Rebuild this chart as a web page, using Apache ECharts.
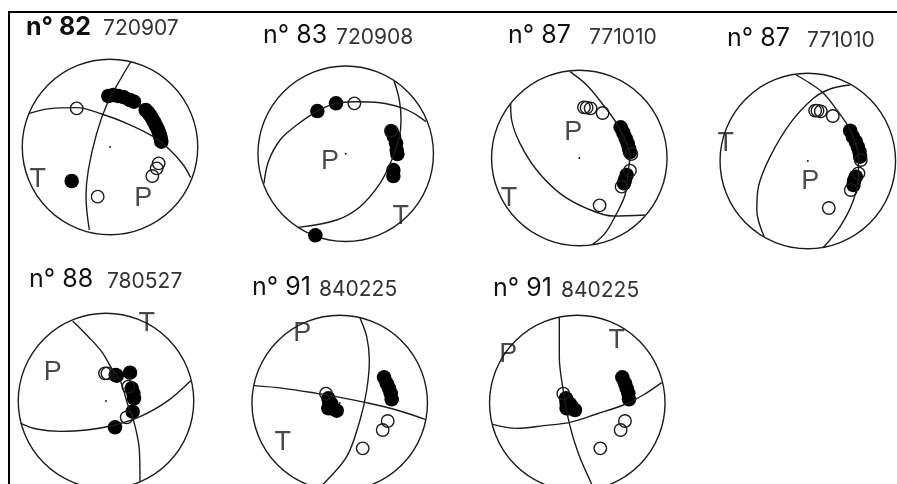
<!DOCTYPE html>
<html><head><meta charset="utf-8">
<style>html,body{margin:0;padding:0;background:#fff}#c{width:897px;height:484px}</style>
<script src="https://cdn.jsdelivr.net/npm/echarts@6/dist/echarts.min.js"></script>
</head><body><div id="c"></div>
<script>
const titles = ['n° 82','n° 83','n° 87','n° 87','n° 88','n° 91','n° 91'];
const dates = ['720907','720908','771010','771010','780527','840225','840225'];

const filled1 = [[-5,-153],[10,-156],[25,-153],[42,-149],[60,-141],[72,-136],[107,-111],[114,-104],[120,-96],[126,-86],[132,-76],[137,-66],[142,-56],[146,-46],[150,-36],[152,-26],[154,-16],[-115,102]];
const open1 = [[-100,-116],[-37,149],[146,49],[140,64],[127,87]];
const planeA1 = [[62,-255],[30,-201],[-8,-131],[-40,-41],[-65,69],[-72,149],[-62,249]];
const planeB1 = [[-242,-101],[-180,-115],[-100,-118],[-25,-99],[50,-71],[130,-31],[180,9],[220,54],[242,92]];
const letters1 = [['T',-217,97],['P',100,154]];

const filled2 = [[-85,-128],[-29,-151],[143,49],[143,67],[-91,245],[138,-66],[145,-51],[151,-31],[153,-11],[155,1]];
const open2 = [[26,-151],[136,-69]];
const planeA2 = [[145,-219],[161,-161],[166,-101],[161,-51],[138,19],[103,89],[43,159],[-27,199],[-142,221]];
const planeB2 = [[-245,89],[-232,24],[-197,-41],[-147,-86],[-85,-128],[-29,-151],[26,-156],[103,-153],[173,-136],[213,-116],[241,-96]];
const letters2 = [['P',-47,24],['T',165,189]];

const filled3 = [[124,-92],[132,-76],[139,-59],[145,-44],[149,-29],[152,-18],[142,51],[137,66],[134,76]];
const open3 = [[14,-152],[22,-151],[34,-149],[70,-135],[61,142],[127,86],[152,38],[156,-12]];
const planeA3 = [[-28,-259],[22,-219],[72,-159],[112,-104],[142,-44],[152,-4],[147,36],[137,111],[107,176],[77,226],[40,259]];
const planeB3 = [[-206,-164],[-203,-114],[-178,-44],[-128,36],[-58,106],[22,151],[102,174],[197,171]];
const letters3 = [['P',-18,-76],['T',-211,121]];

const filled4 = [[127,-91],[135,-73],[144,-58],[150,-43],[155,-28],[157,-13],[144,47],[139,59],[137,72]];
const open4 = [[22,-151],[29,-151],[39,-149],[75,-135],[63,141],[129,87],[152,37],[159,-3]];
const planeA4 = [[-35,-258],[7,-233],[47,-203],[87,-153],[127,-93],[152,-13],[152,37],[137,117],[97,197],[47,259]];
const planeB4 = [[127,-228],[67,-216],[17,-188],[-53,-113],[-113,-13],[-148,77],[-153,147],[-131,227]];
const letters4 = [['T',-246,-53],['P',7,62]];

const filled5 = [[29,-78],[32,-76],[72,-85],[77,-38],[82,-23],[84,-8],[80,32],[27,79]];
const open5 = [[-3,-83],[4,-83],[67,-43],[62,49]];
const planeA5 = [[-100,-240],[-53,-193],[-13,-148],[17,-98],[42,-63],[65,10],[85,67],[100,147],[102,242]];
const planeB5 = [[-256,67],[-208,84],[-138,91],[-58,87],[27,72],[102,47],[182,2],[254,-61]];
const letters5 = [['P',-160,-86],['T',122,-231]];

const filled6 = [[133,-77],[141,-59],[148,-44],[153,-29],[156,-11],[-34,-14],[-31,1],[-24,16],[-9,23],[-34,16],[-25,3]];
const open6 = [[-41,-28],[144,54],[129,81],[69,136]];
const planeA6 = [[61,-254],[81,-199],[89,-129],[81,-39],[61,51],[21,161],[-49,243],[-65,255]];
const planeB6 = [[-257,-52],[-169,-44],[-69,-29],[1,-17],[76,-2],[171,21],[256,49]];
const letters6 = [['P',-112,-207],['T',-171,118]];

const filled7 = [[135,-77],[143,-59],[148,-44],[153,-29],[155,-11],[-34,-14],[-32,1],[-27,16],[-7,21],[-32,16],[-22,3]];
const open7 = [[-42,-28],[143,54],[130,81],[69,136]];
const planeA7 = [[-54,-257],[-54,-139],[-44,-49],[-24,61],[3,151],[43,243]];
const planeB7 = [[-254,64],[-182,76],[-102,68],[-22,58],[58,33],[138,6],[198,-24],[253,-61]];
const letters7 = [['P',-207,-144],['T',118,-186]];

const filled = [filled1,filled2,filled3,filled4,filled5,filled6,filled7];
const opened = [open1,open2,open3,open4,open5,open6,open7];
const planesA = [planeA1,planeA2,planeA3,planeA4,planeA5,planeA6,planeA7];
const planesB = [planeB1,planeB2,planeB3,planeB4,planeB5,planeB6,planeB7];
const letters = [letters1,letters2,letters3,letters4,letters5,letters6,letters7];

// Layout (pixels)
const centres = [[110,147],[345.7,153.7],[579.3,158],[807.8,161],[106,401],[339.7,403],[577.3,403]];
const titlePos = [[26,40],[263,48],[508,48],[727,51],[29,292],[252,300],[493,301]];
const datePos = [[103,39],[336,48],[589,48],[807,51],[107,292],[319,300],[561,301]];
const INK = '#1c1c1c';

const grids=[],xAxes=[],yAxes=[],series=[],graphic=[];
centres.forEach((c,i)=>{
  grids.push({left:c[0]-100,top:c[1]-100,width:200,height:200,show:false,outerBoundsMode:'none',containLabel:false});
  xAxes.push({type:'value',gridIndex:i,min:-300,max:300,show:false});
  yAxes.push({type:'value',gridIndex:i,min:-300,max:300,inverse:true,show:false});
  const base={xAxisIndex:i,yAxisIndex:i,silent:true,animation:false};
  series.push({...base,type:'scatter',data:[[0,0]],symbol:'circle',symbolSize:175.5,
    itemStyle:{color:'transparent',borderColor:INK,borderWidth:1.4,opacity:1}});
  [planesA[i],planesB[i]].forEach(p=>series.push({...base,type:'line',data:p,smooth:0.35,showSymbol:false,
    lineStyle:{color:INK,width:1.4}}));
  series.push({...base,type:'scatter',data:[[0,0]],symbolSize:2,itemStyle:{color:INK,opacity:1}});
  series.push({...base,type:'scatter',data:filled[i],symbolSize:14.5,itemStyle:{color:'#000',opacity:1}});
  series.push({...base,type:'scatter',data:opened[i],symbolSize:12.5,
    itemStyle:{color:'transparent',borderColor:INK,borderWidth:1.4,opacity:1}});
  series.push({...base,type:'scatter',symbolSize:0,
    data:letters[i].map(l=>({name:l[0],value:[l[1],l[2]]})),
    label:{show:true,position:'inside',formatter:'{b}',color:INK,fontFamily:'Liberation Sans',fontSize:27}});
  graphic.push({type:'text',silent:true,style:{text:titles[i],x:titlePos[i][0],y:titlePos[i][1],
    verticalAlign:'bottom',fill:'#111',font:(i===0?'bold 25px':'25px')+' Inter'}});
  graphic.push({type:'text',silent:true,style:{text:dates[i],x:datePos[i][0],y:datePos[i][1],
    verticalAlign:'bottom',fill:'#333',font:'21px Inter'}});
});
// Picture frame
graphic.push({type:'line',silent:true,shape:{x1:9,y1:12,x2:9,y2:484},style:{stroke:'#000',lineWidth:2}});
graphic.push({type:'line',silent:true,shape:{x1:8,y1:12,x2:897,y2:12},style:{stroke:'#000',lineWidth:2}});

const chart=echarts.init(document.getElementById('c'),null,{renderer:'canvas'});
chart.setOption({animation:false,backgroundColor:'#fff',grid:grids,xAxis:xAxes,yAxis:yAxes,series,graphic});
</script></body></html>
